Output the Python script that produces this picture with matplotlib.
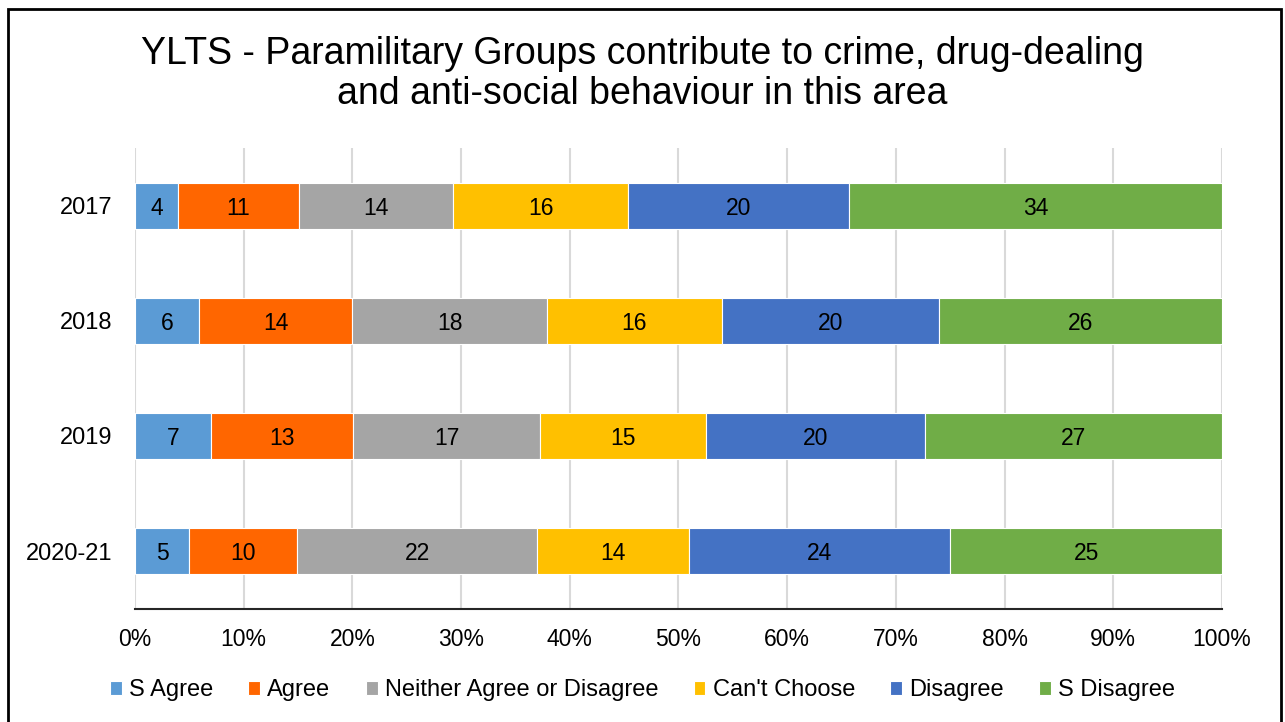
import matplotlib.pyplot as plt
from matplotlib.patches import Rectangle
import numpy as np

plt.rcParams['font.family'] = ['Liberation Sans', 'DejaVu Sans']

years = ["2017", "2018", "2019", "2020-21"]
responses = ["S Agree", "Agree", "Neither Agree or Disagree", "Can't Choose", "Disagree", "S Disagree"]
colors = ["#5B9BD5", "#FF6600", "#A5A5A5", "#FFC000", "#4472C4", "#70AD47"]

# percent shares per year
s_agree = [3.96, 5.9, 7.0, 5.0]
agree = [11.1, 14.1, 13.1, 9.9]
neither = [14.2, 17.9, 17.2, 22.1]
cant_choose = [16.1, 16.1, 15.2, 14.0]
disagree = [20.3, 20.0, 20.2, 24.0]
s_disagree = [34.3, 26.0, 27.3, 25.0]
# labels shown on the bars
labels = [[4, 6, 7, 5], [11, 14, 13, 10], [14, 18, 17, 22],
          [16, 16, 15, 14], [20, 20, 20, 24], [34, 26, 27, 25]]

series = [s_agree, agree, neither, cant_choose, disagree, s_disagree]

fig = plt.figure(figsize=(12.85, 7.22), dpi=100)
ax = fig.add_axes([0.105, 0.157, 0.846, 0.638])

y = np.arange(len(years))
left = np.zeros(len(years))
tot = np.array([sum(s[i] for s in series) for i in range(len(years))])
for vals, lab, name, col in zip(series, labels, responses, colors):
    frac = np.array(vals) / tot
    ax.barh(y, frac, left=left, height=0.4, color=col, label=name,
            edgecolor="white", linewidth=0.8, zorder=3)
    for yi, l0, w, txt in zip(y, left, frac, lab):
        ax.text(l0 + w / 2, yi, str(txt), ha="center", va="center_baseline",
                fontsize=16.5, color="#000000", zorder=4)
    left += frac

ax.set_xlim(0, 1)
ax.set_ylim(3.5, -0.5)
ax.set_yticks(y)
ax.set_yticklabels(years, fontsize=17)
ax.set_xticks(np.linspace(0, 1, 11))
ax.set_xticklabels([f"{int(p)}%" for p in np.linspace(0, 100, 11)], fontsize=16.5)
ax.tick_params(axis="both", length=0, pad=14)
ax.tick_params(axis="y", pad=16)
ax.grid(axis="x", color="#D9D9D9", linewidth=1.5, zorder=0)
for s in ["top", "right", "left"]:
    ax.spines[s].set_visible(False)
ax.spines["bottom"].set_color("#262626")
ax.spines["bottom"].set_linewidth(1.5)
ax.spines["bottom"].set_zorder(4)

fig.text(0.5, 0.897, "YLTS - Paramilitary Groups contribute to crime, drug-dealing\nand anti-social behaviour in this area",
         ha="center", va="center", fontsize=27, linespacing=1.15)

fig.legend(loc="center", bbox_to_anchor=(0.5, 0.044), ncol=6, frameon=False,
           fontsize=17, handlelength=0.5, handleheight=0.55, handletextpad=0.3,
           columnspacing=1.5)

fig.patches.append(Rectangle((8 / 1285, -0.05), 1273 / 1285, 1.05 - 9 / 722,
                             transform=fig.transFigure, fill=False,
                             edgecolor="#000000", linewidth=2))

fig.savefig("out.png", dpi=100)
